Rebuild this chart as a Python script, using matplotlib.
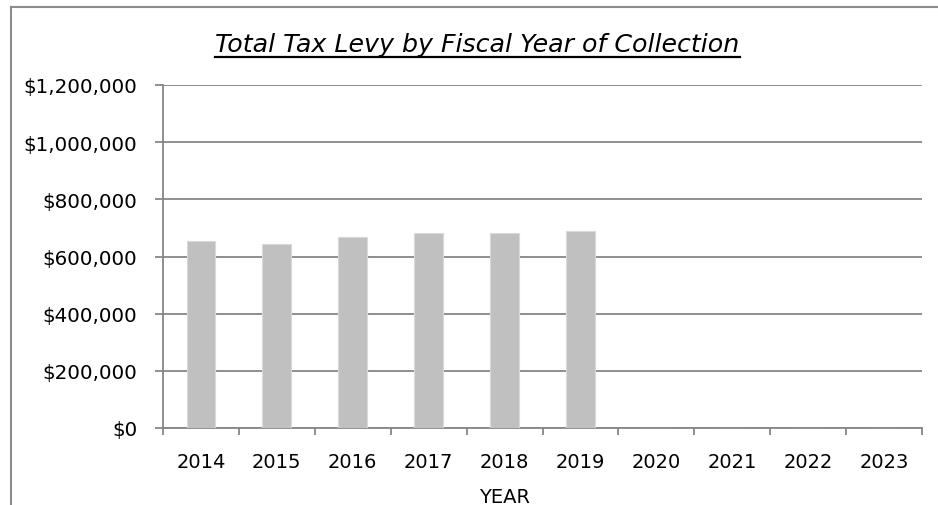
import matplotlib.pyplot as plt
from matplotlib.lines import Line2D
from matplotlib.ticker import FuncFormatter

years = ['2014', '2015', '2016', '2017', '2018', '2019', '2020', '2021', '2022', '2023']
levy = [655000, 643000, 669000, 681000, 681000, 688000, 0, 0, 0, 0]

plt.rcParams['font.family'] = ['DejaVu Sans']

fig = plt.figure(figsize=(9.38, 5.06), dpi=100)
W, H = 938, 506
ax = fig.add_axes([163 / W, 1 - 429 / H, (922 - 163) / W, (429 - 86) / H])

x = list(range(len(years)))
ax.bar(x, levy, width=0.38, color='#c0c0c0', edgecolor='#d9d9d9', linewidth=0.8, zorder=3)

ax.set_xlim(-0.5, len(years) - 0.5)
ax.set_ylim(0, 1200000)
ax.set_yticks(range(0, 1200001, 200000))
ax.yaxis.set_major_formatter(FuncFormatter(lambda v, p: '${:,.0f}'.format(v)))
ax.set_xticks(x)
ax.set_xticklabels(years)
ax.set_xticks([i - 0.5 for i in range(len(years) + 1)], minor=True)
ax.tick_params(axis='x', which='major', length=0, labelsize=14, pad=17)
ax.tick_params(axis='x', which='minor', length=5, color='#868686', width=1.3)
ax.tick_params(axis='y', length=5.5, color='#868686', width=1.3, labelsize=14.3, pad=13)
ax.grid(axis='y', color='#868686', linewidth=1.3, zorder=0)

for s in ['top', 'right']:
    ax.spines[s].set_visible(False)
for s in ['left', 'bottom']:
    ax.spines[s].set_color('#868686')
    ax.spines[s].set_linewidth(1.3)

# outer chart border (left and top visible)
fig.add_artist(Line2D([11 / W, 11 / W], [0, 1 - 8 / H], color='#8c8c8c', linewidth=1.5))
fig.add_artist(Line2D([11 / W, 1], [1 - 8 / H, 1 - 8 / H], color='#8c8c8c', linewidth=1.5))

title = fig.text(477.5 / W, 1 - 51.7 / H, 'Total Tax Levy by Fiscal Year of Collection',
                 ha='center', va='baseline', fontsize=18.2, style='italic')
fig.canvas.draw()
bb = title.get_window_extent().transformed(fig.transFigure.inverted())
fig.add_artist(Line2D([bb.x0, bb.x1], [1 - 57.5 / H, 1 - 57.5 / H], color='black', linewidth=1.6))

fig.text(505 / W, 1 - 502.7 / H, 'YEAR', ha='center', va='baseline', fontsize=14)

fig.savefig('out.png', dpi=100)
